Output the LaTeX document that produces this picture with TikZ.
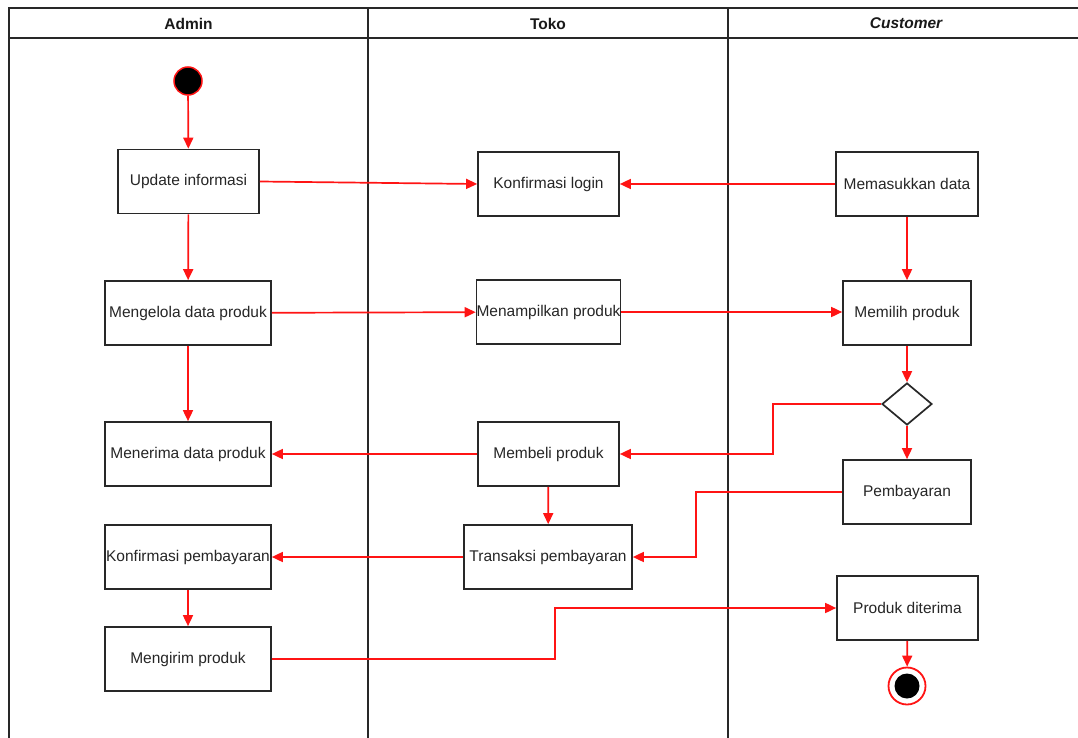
\documentclass[tikz,border=0pt]{standalone}
\usepackage{fontspec}
\setmainfont{Liberation Sans}
\usetikzlibrary{arrows.meta,shapes.geometric}
\definecolor{flow}{RGB}{255,20,20}
\definecolor{edge}{RGB}{40,40,40}
\begin{document}
\begin{tikzpicture}[x=1pt,y=-1pt,
  act/.style={draw=edge,line width=1.7pt,fill=white,text=black!85,
    font=\fontsize{15.5}{17}\selectfont,inner sep=0pt},
  lane/.style={draw=edge,line width=2.1pt},
  head/.style={font=\fontsize{15.5}{17}\selectfont\bfseries,text=black!90},
  flowline/.style={draw=flow,line width=1.7pt,-{Triangle[length=11pt,width=10pt]}}]
\useasboundingbox (0,0) rectangle (1078,738);
\fill[white] (0,0) rectangle (1078,738);
% swimlane frame
\draw[lane] (9,760) -- (9,8) -- (1090,8);
\draw[lane] (9,38) -- (1090,38);
\draw[lane] (368,8) -- (368,760);
\draw[lane] (728,8) -- (728,760);
\node[head] (hA) at (188.5,23.5) {Admin};
\node[head] (hT) at (548,23.5) {Toko};
\node[head] (hC) at (906,23.5) {\itshape Customer};
% start and end
\node[circle,fill=black,draw=flow,line width=1.5pt,minimum size=28pt,inner sep=0pt] (start) at (188,81) {};
\node[circle,draw=flow,line width=1.8pt,minimum size=37pt,inner sep=0pt] (endo) at (907,686) {};
\node[circle,fill=black,minimum size=25pt,inner sep=0pt] (endi) at (907,686) {};
% Admin lane
\node[act,minimum width=141pt,minimum height=64pt] (upd) at (188.5,181.5) {Update informasi};
\node[act,minimum width=166pt,minimum height=64pt] (mdp) at (188,313) {Mengelola data produk};
\node[act,minimum width=166pt,minimum height=64pt] (mrd) at (188,454) {Menerima data produk};
\node[act,minimum width=166pt,minimum height=64pt] (kpb) at (188,557) {Konfirmasi pembayaran};
\node[act,minimum width=166pt,minimum height=64pt] (mkp) at (188,659) {Mengirim produk};
% Toko lane
\node[act,minimum width=141pt,minimum height=64pt] (klg) at (548.5,184) {Konfirmasi login};
\node[act,minimum width=141pt,minimum height=64pt] (mnp) at (548.5,312) {Menampilkan produk};
\node[act,minimum width=141pt,minimum height=64pt] (mbp) at (548.5,454) {Membeli produk};
\node[act,minimum width=168pt,minimum height=64pt] (trx) at (548,557) {Transaksi pembayaran};
% Customer lane
\node[act,minimum width=142pt,minimum height=64pt] (msd) at (907,184) {Memasukkan data};
\node[act,minimum width=128pt,minimum height=64pt] (mlp) at (907,313) {Memilih produk};
\node[diamond,draw=edge,line width=1.7pt,fill=white,aspect=1.2,minimum width=50pt,minimum height=42pt,inner sep=0pt] (dec) at (907,404) {};
\node[act,minimum width=128pt,minimum height=64pt] (pby) at (907,492) {Pembayaran};
\node[act,minimum width=141pt,minimum height=64pt] (pdt) at (907.5,608) {Produk diterima};
% bend points
\coordinate (b1) at (773,404);
\coordinate (b2) at (696,492);
\coordinate (b3) at (555,659);
% control flow
\draw[flowline] (start) -- (upd);
\draw[flowline] (upd.east) -- (klg.west);
\draw[flowline] (msd) -- (klg);
\draw[flowline] (upd) -- (mdp);
\draw[flowline] (msd) -- (mlp);
\draw[flowline] (mdp) -- (mnp);
\draw[flowline] (mnp.east) -- (mlp.west |- mnp.east);
\draw[flowline] (mdp) -- (mrd);
\draw[flowline] (mlp) -- (dec);
\draw[flowline] (dec.west) -- (b1) |- (mbp.east);
\draw[flowline] (dec) -- (pby);
\draw[flowline] (mbp) -- (mrd);
\draw[flowline] (mbp) -- (trx);
\draw[flowline] (pby.west) -- (b2) |- (trx.east);
\draw[flowline] (trx) -- (kpb);
\draw[flowline] (kpb) -- (mkp);
\draw[flowline] (mkp.east) -- (b3) |- (pdt.west);
\draw[flowline] (pdt) -- (endo);
\end{tikzpicture}
\end{document}
